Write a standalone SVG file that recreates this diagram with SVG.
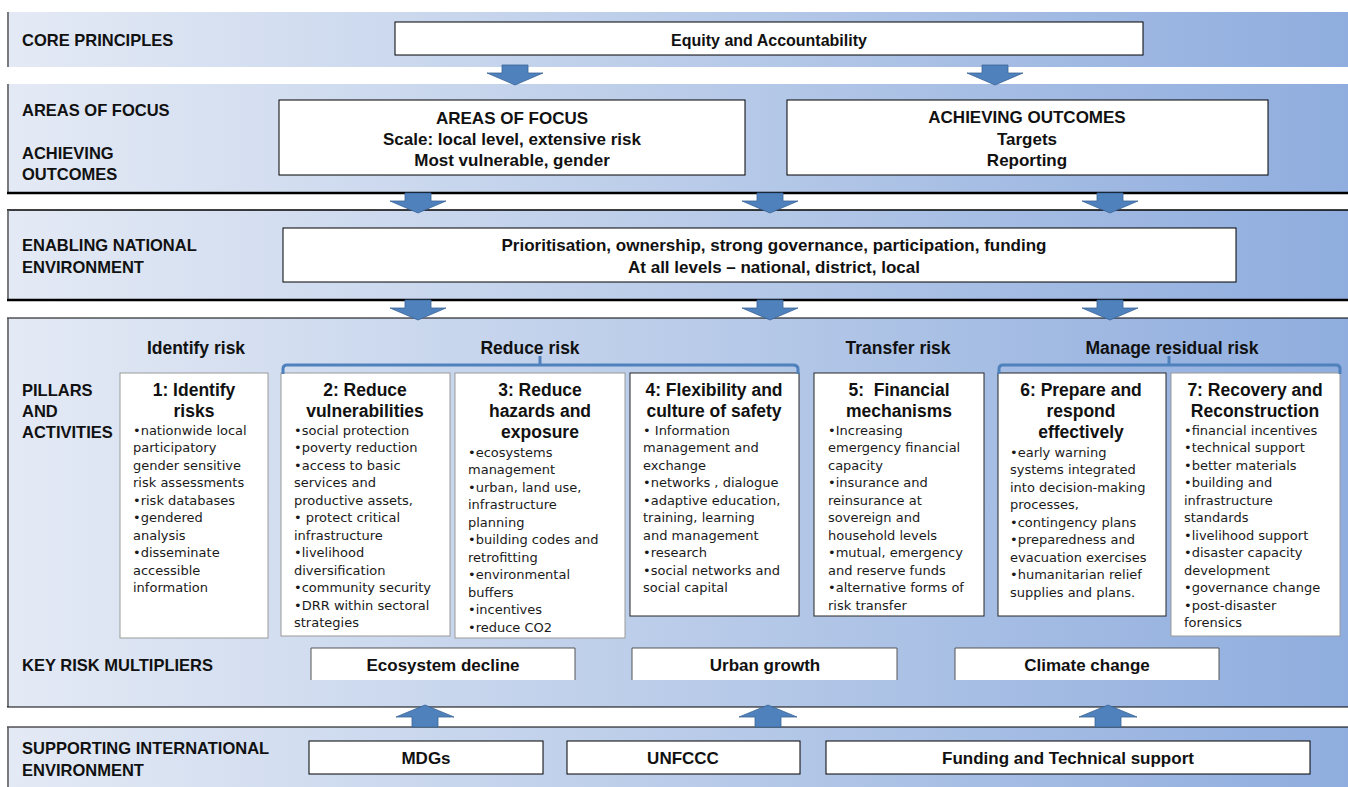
<svg xmlns="http://www.w3.org/2000/svg" width="1348" height="787" viewBox="0 0 1348 787">
<defs>
<linearGradient id="bg" gradientUnits="userSpaceOnUse" x1="7" y1="0" x2="1348" y2="0">
<stop offset="0" stop-color="#e4eaf5"/>
<stop offset="0.5" stop-color="#bacce9"/>
<stop offset="1" stop-color="#8fadde"/>
</linearGradient>
<path id="down" d="M-13,0 H13 V8 H28 L0,20 L-28,8 H-13 Z"/>
<path id="up" d="M-13,22 H13 V12 H29 L0,0 L-29,12 H-13 Z"/>
</defs>
<style>
.band{fill:url(#bg)}
.edge{stroke:#555;stroke-width:1.5;fill:none}
.hl{stroke:#000;fill:none}
.box{fill:#fff;stroke:#000;stroke-width:1}
.col{fill:#fff;stroke:#9a9a9a;stroke-width:1}
.colk{fill:#fff;stroke:#262626;stroke-width:1}
.lab{font-family:"Liberation Sans",Arial,sans-serif;font-weight:bold;font-size:16.5px;fill:#111}
.bt{font-family:"Liberation Sans",Arial,sans-serif;font-weight:bold;font-size:17px;fill:#111;text-anchor:middle}
.eq{font-size:16px}
.hd{font-family:"Liberation Sans",Arial,sans-serif;font-weight:bold;font-size:17.5px;fill:#111;text-anchor:middle}
.ti{font-family:"Liberation Sans",Arial,sans-serif;font-weight:bold;font-size:17.5px;fill:#111;text-anchor:middle}
.bu{font-family:"DejaVu Sans",Verdana,sans-serif;font-size:13px;fill:#1a1a1a}
.arr{fill:#4f81bd;stroke:#3a6598;stroke-width:0.8}
.brk{fill:none;stroke:#4f81bd;stroke-width:3}
</style>

<!-- bands -->
<g id="bands">
<rect class="band" x="7" y="12" width="1341" height="55"/>
<line class="edge" x1="8" y1="12" x2="8" y2="67"/>
<rect class="band" x="7" y="84" width="1341" height="109"/>
<line class="edge" x1="8" y1="84" x2="8" y2="193"/>
<line class="hl" x1="7" y1="193" x2="1348" y2="193" stroke-width="2.5"/>
<rect class="band" x="7" y="210" width="1341" height="90"/>
<line class="hl" x1="7" y1="210" x2="1348" y2="210" stroke-width="1.5"/>
<line class="edge" x1="8" y1="210" x2="8" y2="300"/>
<line class="hl" x1="7" y1="300" x2="1348" y2="300" stroke-width="2.5"/>
<rect class="band" x="7" y="318" width="1341" height="389"/>
<line class="hl" x1="7" y1="318" x2="1348" y2="318" stroke-width="1.2"/>
<line class="edge" x1="8" y1="318" x2="8" y2="707"/>
<line class="hl" x1="7" y1="707" x2="1348" y2="707" stroke-width="1.2"/>
<rect class="band" x="7" y="727" width="1341" height="60"/>
<line class="hl" x1="7" y1="727" x2="1348" y2="727" stroke-width="1.2"/>
<line class="edge" x1="8" y1="727" x2="8" y2="787"/>
</g>

<!-- row labels -->
<g id="labels">
<text class="lab" x="22" y="46">CORE PRINCIPLES</text>
<text class="lab" x="22" y="116">AREAS OF FOCUS</text>
<text class="lab" x="22" y="159">ACHIEVING</text>
<text class="lab" x="22" y="180">OUTCOMES</text>
<text class="lab" x="22" y="251">ENABLING NATIONAL</text>
<text class="lab" x="22" y="273">ENVIRONMENT</text>
<text class="lab" x="22" y="396">PILLARS</text>
<text class="lab" x="22" y="417">AND</text>
<text class="lab" x="22" y="438">ACTIVITIES</text>
<text class="lab" x="22" y="671">KEY RISK MULTIPLIERS</text>
<text class="lab" x="22" y="754">SUPPORTING INTERNATIONAL</text>
<text class="lab" x="22" y="776">ENVIRONMENT</text>
</g>

<g id="equity">
<rect class="box" x="395" y="22" width="748" height="33"/>
<text class="bt eq" x="769" y="45.5">Equity and Accountability</text>
</g>

<g id="areas-of-focus">
<rect class="box" x="279" y="100" width="466" height="75"/>
<text class="bt" x="512" y="124">AREAS OF FOCUS</text>
<text class="bt" x="512" y="145">Scale: local level, extensive risk</text>
<text class="bt" x="512" y="166">Most vulnerable, gender</text>
</g>

<g id="achieving-outcomes">
<rect class="box" x="787" y="100" width="481" height="75"/>
<text class="bt" x="1027" y="123">ACHIEVING OUTCOMES</text>
<text class="bt" x="1027" y="145">Targets</text>
<text class="bt" x="1027" y="166">Reporting</text>
</g>

<g id="enabling">
<rect class="box" x="283" y="228" width="953" height="54"/>
<text class="bt" x="774" y="251">Prioritisation, ownership, strong governance, participation, funding</text>
<text class="bt" x="774" y="273">At all levels – national, district, local</text>
</g>

<!-- section headings -->
<g id="headings">
<text class="hd" x="196" y="353.5">Identify risk</text>
<text class="hd" x="530" y="353.5">Reduce risk</text>
<text class="hd" x="898" y="353.5">Transfer risk</text>
<text class="hd" x="1172" y="353.5">Manage residual risk</text>
</g>

<g id="col1">
<rect class="col" x="120" y="373" width="148" height="265"/>
<text class="ti" x="194" y="396">1: Identify</text>
<text class="ti" x="194" y="417">risks</text>
<text class="bu" x="133" y="434.5">•nationwide local</text>
<text class="bu" x="133" y="452">participatory</text>
<text class="bu" x="133" y="469.5">gender sensitive</text>
<text class="bu" x="133" y="487">risk assessments</text>
<text class="bu" x="133" y="504.5">•risk databases</text>
<text class="bu" x="133" y="522">•gendered</text>
<text class="bu" x="133" y="539.5">analysis</text>
<text class="bu" x="133" y="557">•disseminate</text>
<text class="bu" x="133" y="574.5">accessible</text>
<text class="bu" x="133" y="592">information</text>
</g>

<g id="col2">
<rect class="col" x="281" y="373" width="169" height="263"/>
<text class="ti" x="365" y="396">2: Reduce</text>
<text class="ti" x="365" y="417">vulnerabilities</text>
<text class="bu" x="294" y="434.5">•social protection</text>
<text class="bu" x="294" y="452">•poverty reduction</text>
<text class="bu" x="294" y="469.5">•access to basic</text>
<text class="bu" x="294" y="487">services and</text>
<text class="bu" x="294" y="504.5">productive assets,</text>
<text class="bu" x="294" y="522">• protect critical</text>
<text class="bu" x="294" y="539.5">infrastructure</text>
<text class="bu" x="294" y="557">•livelihood</text>
<text class="bu" x="294" y="574.5">diversification</text>
<text class="bu" x="294" y="592">•community security</text>
<text class="bu" x="294" y="609.5">•DRR within sectoral</text>
<text class="bu" x="294" y="627">strategies</text>
</g>

<g id="col3">
<rect class="col" x="455" y="373" width="170" height="265"/>
<text class="ti" x="540" y="396">3: Reduce</text>
<text class="ti" x="540" y="417">hazards and</text>
<text class="ti" x="540" y="438">exposure</text>
<text class="bu" x="468" y="456.5">•ecosystems</text>
<text class="bu" x="468" y="474">management</text>
<text class="bu" x="468" y="491.5">•urban, land use,</text>
<text class="bu" x="468" y="509">infrastructure</text>
<text class="bu" x="468" y="526.5">planning</text>
<text class="bu" x="468" y="544">•building codes and</text>
<text class="bu" x="468" y="561.5">retrofitting</text>
<text class="bu" x="468" y="579">•environmental</text>
<text class="bu" x="468" y="596.5">buffers</text>
<text class="bu" x="468" y="614">•incentives</text>
<text class="bu" x="468" y="631.5">•reduce CO2</text>
</g>

<g id="col4">
<rect class="colk" x="630" y="373" width="169" height="243"/>
<text class="ti" x="714" y="396">4: Flexibility and</text>
<text class="ti" x="714" y="417">culture of safety</text>
<text class="bu" x="643" y="434.5">• Information</text>
<text class="bu" x="643" y="452">management and</text>
<text class="bu" x="643" y="469.5">exchange</text>
<text class="bu" x="643" y="487">•networks , dialogue</text>
<text class="bu" x="643" y="504.5">•adaptive education,</text>
<text class="bu" x="643" y="522">training, learning</text>
<text class="bu" x="643" y="539.5">and management</text>
<text class="bu" x="643" y="557">•research</text>
<text class="bu" x="643" y="574.5">•social networks and</text>
<text class="bu" x="643" y="592">social capital</text>
</g>

<g id="col5">
<rect class="colk" x="814" y="373" width="170" height="243"/>
<text class="ti" x="899" y="396" xml:space="preserve">5:  Financial</text>
<text class="ti" x="899" y="417">mechanisms</text>
<text class="bu" x="828" y="434.5">•Increasing</text>
<text class="bu" x="828" y="452">emergency financial</text>
<text class="bu" x="828" y="469.5">capacity</text>
<text class="bu" x="828" y="487">•insurance and</text>
<text class="bu" x="828" y="504.5">reinsurance at</text>
<text class="bu" x="828" y="522">sovereign and</text>
<text class="bu" x="828" y="539.5">household levels</text>
<text class="bu" x="828" y="557">•mutual, emergency</text>
<text class="bu" x="828" y="574.5">and reserve funds</text>
<text class="bu" x="828" y="592">•alternative forms of</text>
<text class="bu" x="828" y="609.5">risk transfer</text>
</g>

<g id="col6">
<rect class="colk" x="998" y="373" width="168" height="243"/>
<text class="ti" x="1081" y="396">6: Prepare and</text>
<text class="ti" x="1081" y="417">respond</text>
<text class="ti" x="1081" y="438">effectively</text>
<text class="bu" x="1010" y="456.5">•early warning</text>
<text class="bu" x="1010" y="474">systems integrated</text>
<text class="bu" x="1010" y="491.5">into decision-making</text>
<text class="bu" x="1010" y="509">processes,</text>
<text class="bu" x="1010" y="526.5">•contingency plans</text>
<text class="bu" x="1010" y="544">•preparedness and</text>
<text class="bu" x="1010" y="561.5">evacuation exercises</text>
<text class="bu" x="1010" y="579">•humanitarian relief</text>
<text class="bu" x="1010" y="596.5">supplies and plans.</text>
</g>

<g id="col7">
<rect class="col" x="1171" y="373" width="169" height="263"/>
<text class="ti" x="1255" y="396">7: Recovery and</text>
<text class="ti" x="1255" y="417">Reconstruction</text>
<text class="bu" x="1184" y="434.5">•financial incentives</text>
<text class="bu" x="1184" y="452">•technical support</text>
<text class="bu" x="1184" y="469.5">•better materials</text>
<text class="bu" x="1184" y="487">•building and</text>
<text class="bu" x="1184" y="504.5">infrastructure</text>
<text class="bu" x="1184" y="522">standards</text>
<text class="bu" x="1184" y="539.5">•livelihood support</text>
<text class="bu" x="1184" y="557">•disaster capacity</text>
<text class="bu" x="1184" y="574.5">development</text>
<text class="bu" x="1184" y="592">•governance change</text>
<text class="bu" x="1184" y="609.5">•post-disaster</text>
<text class="bu" x="1184" y="627">forensics</text>
</g>

<g id="multipliers">
<g id="ecosystem"><rect x="311" y="648" width="264" height="32" fill="#fff"/><path d="M311,680 V648 H575 V680" fill="none" stroke="#555"/><text class="bt" x="443" y="671">Ecosystem decline</text></g>
<g id="urban"><rect x="632" y="648" width="265" height="32" fill="#fff"/><path d="M632,680 V648 H897 V680" fill="none" stroke="#555"/><text class="bt" x="765" y="671">Urban growth</text></g>
<g id="climate"><rect x="955" y="648" width="264" height="32" fill="#fff"/><path d="M955,680 V648 H1219 V680" fill="none" stroke="#555"/><text class="bt" x="1087" y="671">Climate change</text></g>
</g>

<g id="international">
<g id="mdgs"><rect class="box" x="309" y="741" width="234" height="33"/><text class="bt" x="426" y="764">MDGs</text></g>
<g id="unfccc"><rect class="box" x="567" y="741" width="233" height="33"/><text class="bt" x="683" y="764">UNFCCC</text></g>
<g id="funding"><rect class="box" x="826" y="741" width="484" height="33"/><text class="bt" x="1068" y="764">Funding and Technical support</text></g>
</g>

<!-- connectors -->
<g id="connectors">
<path class="brk" d="M283,374 V369 Q283,365 287,365 H793 Q798,365 798,369 V374 M540,365 V356"/>
<path class="brk" d="M999,374 V369 Q999,365 1003,365 H1336 Q1340,365 1340,369 V374 M1169,365 V356"/>
<use href="#down" class="arr" x="515" y="65"/>
<use href="#down" class="arr" x="995" y="65"/>
<use href="#down" class="arr" x="418" y="193"/>
<use href="#down" class="arr" x="770" y="193"/>
<use href="#down" class="arr" x="1110" y="193"/>
<use href="#down" class="arr" x="418" y="300"/>
<use href="#down" class="arr" x="770" y="300"/>
<use href="#down" class="arr" x="1110" y="300"/>
<use href="#up" class="arr" x="425" y="705"/>
<use href="#up" class="arr" x="768" y="705"/>
<use href="#up" class="arr" x="1108" y="705"/>
</g>
</svg>
